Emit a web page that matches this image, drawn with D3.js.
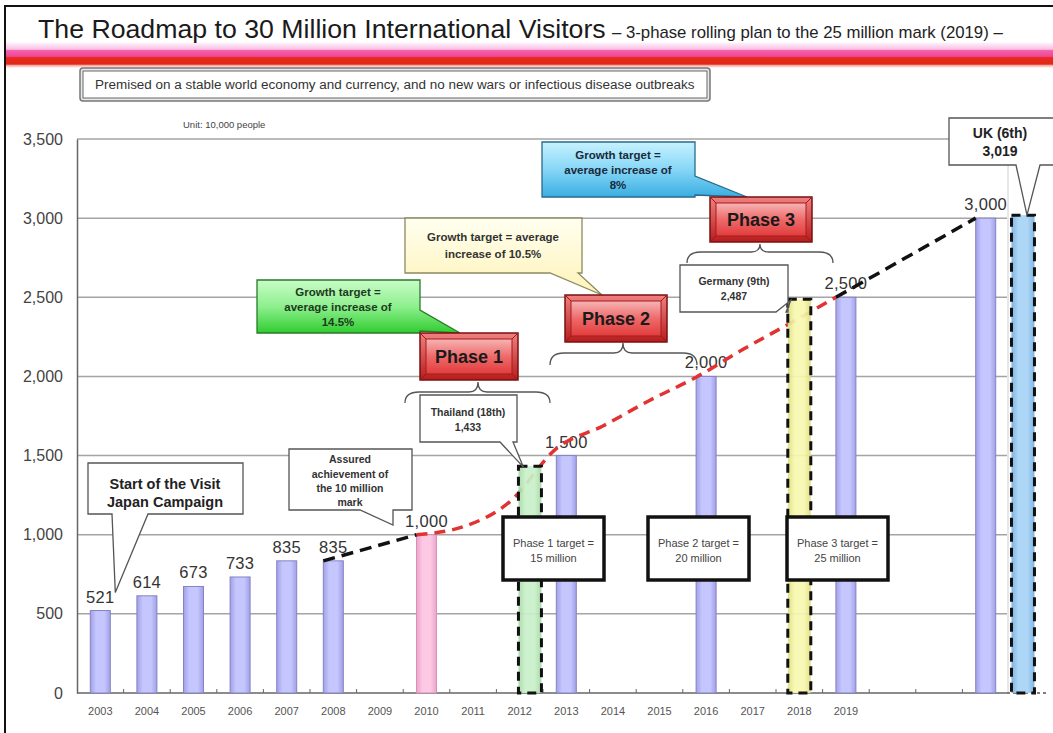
<!DOCTYPE html>
<html><head><meta charset="utf-8">
<script src="https://cdn.jsdelivr.net/npm/d3@7"></script>
<style>body{margin:0;background:#fff}svg{display:block}text{font-family:"Liberation Sans",Arial,sans-serif}</style>
</head><body><svg id="c" width="1053" height="733"></svg>
<script>
// ---------------- DATA ----------------
const slots = d3.range(2003, 2023).map(String);           // x slots (2020-2022 unlabeled)
const tickYears = d3.range(2003, 2020).map(String);       // labeled ticks
const yTicks = [0, 500, 1000, 1500, 2000, 2500, 3000, 3500];
const visitorYears  = ["2003","2004","2005","2006","2007","2008","2010","2013","2016","2019","2022"];
const visitorValues = [521, 614, 673, 733, 835, 835, 1000, 1500, 2000, 2500, 3000];
const visitorLabels = ["521","614","673","733","835","835","1,000","1,500","2,000","2,500","3,000"];
const milestoneYear = "2010";
const compNames  = ["Thailand (18th)", "Germany (9th)", "UK (6th)"];
const compValues = [1433, 2487, 3019];
const compLabels = ["1,433", "2,487", "3,019"];
const compSlots  = ["2012", "2018", "2022"];
const targetYears  = ["2010","2011","2012","2013","2014","2015","2016","2017","2018","2019"];
const targetValues = [1000, 1050, 1208, 1544, 1687, 1848, 1995, 2170, 2333, 2500];
const bridgeA = {years: ["2008","2010"], values: [835, 1000]};
const bridgeB = {years: ["2019","2022"], values: [2500, 3000]};
const growthTexts = [["Growth target =","average increase of","14.5%"],["Growth target = average","increase of 10.5%"],["Growth target =","average increase of","8%"]];
const phaseTargets = [["Phase 1 target =","15 million"],["Phase 2 target =","20 million"],["Phase 3 target =","25 million"]];

// ---------------- SETUP ----------------
const svg = d3.select("#c");
const defs = svg.append("defs");
function hGrad(id, edge, mid){
  const g = defs.append("linearGradient").attr("id", id).attr("x1","0").attr("x2","1").attr("y1","0").attr("y2","0");
  [[0,edge],[0.3,mid],[0.7,mid],[1,edge]].forEach(s=>g.append("stop").attr("offset",s[0]).attr("stop-color",s[1]));
}
function vGrad(id, stops){
  const g = defs.append("linearGradient").attr("id", id).attr("x1","0").attr("x2","0").attr("y1","0").attr("y2","1");
  stops.forEach(s=>g.append("stop").attr("offset",s[0]).attr("stop-color",s[1]));
}
hGrad("lav", "#a0a0e8", "#c6c6ff");
hGrad("pink", "#eba4cb", "#fcc8e3");
hGrad("green", "#a6d8a6", "#c8f0c8");
hGrad("yellow", "#dede7c", "#f8f8b0");
hGrad("blue", "#74aedf", "#a6d2f6");
vGrad("hdr", [[0,"#ffffff"],[0.05,"#fdeefa"],[0.28,"#f9c0e4"],[0.33,"#f260a8"],[0.55,"#f04898"],[0.6,"#e62a20"],[0.85,"#e02814"],[0.9,"#f4a8a0"],[1,"#ffffff"]]);
vGrad("gGreen", [[0,"#c8fcc8"],[0.5,"#8ef08e"],[1,"#30cc30"]]);
vGrad("gYellow", [[0,"#fffff0"],[1,"#fff3b8"]]);
vGrad("gBlue", [[0,"#c6f2ff"],[0.5,"#86d6f6"],[1,"#3aaee2"]]);
vGrad("phFace", [[0,"#f6b4b4"],[0.5,"#ee6a6a"],[1,"#e23c3c"]]);
vGrad("phOuter", [[0,"#f08080"],[1,"#b81c1c"]]);

const plotL = 77, plotR = 1009, y0 = 693, yTop = 139;
const x = d3.scaleBand().domain(slots).range([plotL, plotR]).paddingInner(0).paddingOuter(0);
const y = d3.scaleLinear().domain([0, 3500]).range([y0, yTop]);
const step = x.step();
const bw = 20, cw = 23;
const cx = s => x(s) + step/2;
const leftEdge = s => cx(s) - bw/2;
const compShift = [0.22, 0, 0.8];

// ---------------- FRAME / HEADER ----------------
svg.append("rect").attr("x",5).attr("y",42).attr("width",1048).attr("height",26).attr("fill","url(#hdr)");
svg.append("line").attr("x1",5).attr("x2",1053).attr("y1",6).attr("y2",6).attr("stroke","#111").attr("stroke-width",2);
svg.append("line").attr("x1",5).attr("x2",5).attr("y1",5).attr("y2",733).attr("stroke","#111").attr("stroke-width",2);

const title = svg.append("text").attr("x",38).attr("y",38).attr("font-size",24).attr("fill","#1a1a1a")
  .text("The Roadmap to 30 Million International Visitors");
const tw = title.node().getComputedTextLength();
title.attr("font-size", 24 * 568 / tw);
const sub = svg.append("text").attr("x",612).attr("y",38).attr("font-size",14).attr("fill","#222")
  .text("– 3-phase rolling plan to the 25 million mark (2019) –");
const sw = sub.node().getComputedTextLength();
sub.attr("font-size", 14 * 391 / sw);

svg.append("rect").attr("x",80).attr("y",68).attr("width",630).attr("height",33).attr("rx",3)
  .attr("fill","#e8e8e8").attr("stroke","#777").attr("stroke-width",1.5);
svg.append("rect").attr("x",83).attr("y",71).attr("width",624).attr("height",27)
  .attr("fill","#fff").attr("stroke","#666").attr("stroke-width",1);
const prem = svg.append("text").attr("x",95).attr("y",89).attr("font-size",12).attr("fill","#333")
  .text("Premised on a stable world economy and currency, and no new wars or infectious disease outbreaks");
const pw = prem.node().getComputedTextLength();
prem.attr("font-size", 12 * 600 / pw);

svg.append("text").attr("x",183).attr("y",128).attr("font-size",9.5).attr("fill","#444").text("Unit: 10,000 people");

// ---------------- GRID / AXES ----------------
svg.append("g").selectAll("line").data(yTicks.filter(d=>d>0)).join("line")
  .attr("x1",plotL).attr("x2",1007).attr("y1",d=>y(d)).attr("y2",d=>y(d))
  .attr("stroke","#a4a4a4").attr("stroke-width",1.5);
svg.append("line").attr("x1",1008).attr("x2",1008).attr("y1",yTop).attr("y2",y0).attr("stroke","#d0d0d0").attr("stroke-width",1);

const yAxis = d3.axisLeft(y).tickValues(yTicks).tickSize(0).tickPadding(14).tickFormat(d3.format(","));
const gy = svg.append("g").attr("transform",`translate(${plotL},0)`).call(yAxis);
gy.select(".domain").attr("stroke","#666").attr("stroke-width",1.5);
gy.selectAll("text").attr("font-size",16).attr("fill","#444").attr("font-family","Liberation Sans, Arial, sans-serif");

const xAxis = d3.axisBottom(x).tickValues(tickYears).tickSize(0).tickPadding(14);
const gx = svg.append("g").attr("transform",`translate(0,${y0})`).call(xAxis);
gx.select(".domain").remove();
gx.selectAll("text").attr("font-size",11).attr("fill","#555").attr("font-family","Liberation Sans, Arial, sans-serif");
svg.append("line").attr("x1",plotL).attr("x2",1007).attr("y1",y0).attr("y2",y0).attr("stroke","#666").attr("stroke-width",1.5);
svg.append("line").attr("x1",1007).attr("x2",1047).attr("y1",y0).attr("y2",y0).attr("stroke","#555").attr("stroke-width",1.5).attr("stroke-dasharray","3,3");
svg.append("g").selectAll("line").data(slots.slice(1)).join("line")
  .attr("x1",d=>x(d)).attr("x2",d=>x(d)).attr("y1",y0).attr("y2",y0-4).attr("stroke","#666").attr("stroke-width",1);

// ---------------- BARS ----------------
const bars = visitorYears.map((yr,i)=>({yr, v:visitorValues[i], lab:visitorLabels[i]}));
svg.append("g").selectAll("rect").data(bars).join("rect")
  .attr("x",d=>cx(d.yr)-bw/2).attr("width",bw)
  .attr("y",d=>y(d.v)).attr("height",d=>y0-y(d.v))
  .attr("fill",d=>d.yr===milestoneYear?"url(#pink)":"url(#lav)")
  .attr("stroke",d=>d.yr===milestoneYear?"#d890b8":"#8484c0").attr("stroke-width",1);
svg.append("g").selectAll("text").data(bars).join("text")
  .attr("x",d=>cx(d.yr)).attr("y",d=>y(d.v)-8).attr("text-anchor","middle")
  .attr("font-size",16.5).attr("fill","#333").attr("letter-spacing",0.3).text(d=>d.lab);

// ---------------- LINES ----------------
const line = d3.line().x(d=>leftEdge(d[0])).y(d=>y(d[1]));
svg.append("path").datum(targetYears.map((yr,i)=>[yr,targetValues[i]]))
  .attr("d", line.curve(d3.curveMonotoneX)).attr("fill","none")
  .attr("stroke","#e23232").attr("stroke-width",3.5).attr("stroke-dasharray","11,7");
const lineS = d3.line().x(d=>leftEdge(d[0])).y(d=>y(d[1]));
[bridgeA, bridgeB].forEach(b=>{
  svg.append("path").datum(b.years.map((yr,i)=>[yr,b.values[i]])).attr("d", lineS)
    .attr("fill","none").attr("stroke","#111").attr("stroke-width",3.5).attr("stroke-dasharray","12,7");
});

// ---------------- COMPARISON BARS ----------------
const comps = compNames.map((n,i)=>({n, v:compValues[i], lab:compLabels[i], s:compSlots[i], sh:compShift[i], fill:["url(#green)","url(#yellow)","url(#blue)"][i]}));
const compX = d => cx(d.s) + d.sh*step - cw/2;
svg.append("g").selectAll("rect.cb").data(comps).join("rect")
  .attr("x",compX).attr("width",cw).attr("y",d=>y(d.v)).attr("height",d=>y0-y(d.v))
  .attr("fill",d=>d.fill).attr("fill-opacity",0.92);
svg.append("g").selectAll("rect.cd").data(comps).join("rect")
  .attr("x",compX).attr("width",cw).attr("y",d=>y(d.v)).attr("height",d=>y0-y(d.v))
  .attr("fill","none").attr("stroke","#111").attr("stroke-width",3).attr("stroke-dasharray","9,6");

// ---------------- ANNOTATIONS ----------------
const calloutBottom = (x0,y0_,w,h,b1,b2,tx,ty)=>`M${x0},${y0_}H${x0+w}V${y0_+h}H${b2}L${tx},${ty}L${b1},${y0_+h}H${x0}Z`;
const calloutRight = (x0,y0_,w,h,a1,a2,tx,ty)=>`M${x0},${y0_}H${x0+w}V${a1}L${tx},${ty}L${x0+w},${a2}V${y0_+h}H${x0}Z`;
function lines(cxp, baselines, arr, size, weight, fill){
  arr.forEach((t,i)=>svg.append("text").attr("x",cxp).attr("y",baselines[i]).attr("text-anchor","middle")
    .attr("font-size",size).attr("font-weight",weight).attr("fill",fill).text(t));
}
function brace(x1,x2,xm,yE,yF,yT){
  svg.append("path").attr("d",`M${x1},${yE}Q${x1},${yF} ${x1+14},${yF}H${xm-9}Q${xm},${yF} ${xm},${yT}Q${xm},${yF} ${xm+9},${yF}H${x2-14}Q${x2},${yF} ${x2},${yE}`)
    .attr("fill","none").attr("stroke","#555").attr("stroke-width",1.3);
}
function phaseBox(x0,y0_,w,h,label){
  const g = svg.append("g");
  g.append("rect").attr("x",x0).attr("y",y0_).attr("width",w).attr("height",h).attr("fill","url(#phOuter)").attr("stroke","#7a1010").attr("stroke-width",1.5);
  const i = 6;
  g.append("rect").attr("x",x0+i).attr("y",y0_+i).attr("width",w-2*i).attr("height",h-2*i).attr("fill","url(#phFace)").attr("stroke","#a41c1c").attr("stroke-width",1);
  [[x0,y0_,x0+i,y0_+i],[x0+w,y0_,x0+w-i,y0_+i],[x0,y0_+h,x0+i,y0_+h-i],[x0+w,y0_+h,x0+w-i,y0_+h-i]].forEach(c=>
    g.append("line").attr("x1",c[0]).attr("y1",c[1]).attr("x2",c[2]).attr("y2",c[3]).attr("stroke","#9a1a1a").attr("stroke-width",1));
  g.append("text").attr("x",x0+w/2).attr("y",y0_+h/2+6).attr("text-anchor","middle").attr("font-size",18).attr("font-weight","bold").attr("fill","#1a1a1a").text(label);
}

// Start of campaign
svg.append("path").attr("d",calloutBottom(88,463,155,51,112,148,cx("2003")+15,y(521)-18)).attr("fill","#fff").attr("stroke","#555").attr("stroke-width",1.3);
lines(165,[489,507],["Start of the Visit","Japan Campaign"],14.5,"bold","#222");
// Assured
svg.append("path").attr("d",calloutBottom(289,449,123,61,360,393,393,525)).attr("fill","#fff").attr("stroke","#555").attr("stroke-width",1.3);
lines(350,[463,478,492,506],["Assured","achievement of","the 10 million","mark"],10.5,"bold","#333");
// Thailand
const th = comps[0];
svg.append("path").attr("d",calloutBottom(420,395,97,47,500,513,compX(th)+5,y(th.v)+1)).attr("fill","#fff").attr("stroke","#555").attr("stroke-width",1.3);
lines(468,[416,431],[th.n, th.lab],10.5,"bold","#333");
// Germany
const ge = comps[1];
svg.append("path").attr("d",calloutBottom(680,265,108,47,776,786,compX(ge)+3,y(ge.v)+1)).attr("fill","#fff").attr("stroke","#555").attr("stroke-width",1.3);
lines(734,[285,300],[ge.n, ge.lab],10.5,"bold","#333");
// UK
const uk = comps[2];
svg.append("path").attr("d",calloutBottom(949,118,106,47,1016,1040,compX(uk)+cw/2+4,y(uk.v))).attr("fill","#fff").attr("stroke","#555").attr("stroke-width",1.3);
lines(1000,[138,156],[uk.n, uk.lab],14,"bold","#222");

// Growth callouts
svg.append("path").attr("d",calloutRight(257,280,163,53,310,331,460,333)).attr("fill","url(#gGreen)").attr("stroke","#2a7a2a").attr("stroke-width",1.3);
lines(338,[296,311,326],growthTexts[0],11.5,"bold","#1e3a1e");
svg.append("path").attr("d",calloutBottom(405,218,177,55,550,578,602,295)).attr("fill","url(#gYellow)").attr("stroke","#8a8a60").attr("stroke-width",1.3);
lines(493,[241,258],growthTexts[1],11.5,"bold","#333");
svg.append("path").attr("d",calloutRight(542,142,153,55,176,195,747,197)).attr("fill","url(#gBlue)").attr("stroke","#2a6a8a").attr("stroke-width",1.3);
lines(618,[159,174,189],growthTexts[2],11.5,"bold","#1a2a3a");

// Phase boxes & braces
phaseBox(420,333,98,47,"Phase 1");
phaseBox(565,295,102,47,"Phase 2");
phaseBox(710,197,102,45,"Phase 3");
brace(405,550,478,403,392,382);
brace(550,697,623,365,353,343);
brace(687,833,760,263,252,244);

// Phase target boxes
[[503,"2012"],[648,"2016"],[787,"2018"]].forEach((p,i)=>{
  svg.append("rect").attr("x",p[0]).attr("y",517).attr("width",101).attr("height",63).attr("fill","#fff").attr("stroke","#111").attr("stroke-width",3.5);
  lines(p[0]+50.5,[547,562],phaseTargets[i],11,"normal","#444");
});
</script></body></html>
